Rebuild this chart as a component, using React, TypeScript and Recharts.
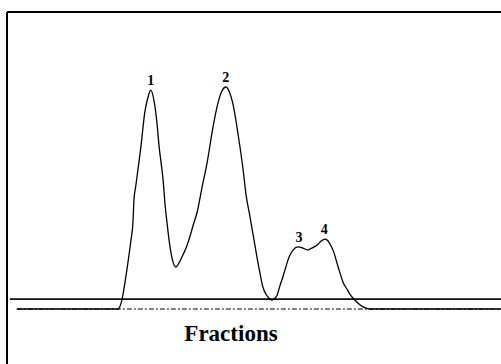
import React from 'react';
import { LineChart, Line, XAxis, YAxis, ReferenceLine, ReferenceDot } from 'recharts';

// Fraction position (0-100) and detector signal (relative units)
const fractionX = [
  2.0, 22.5, 22.9, 23.3, 23.9, 24.5, 25.1, 25.5, 25.7, 26.1, 26.5, 27.1, 27.9, 28.5, 29.1,
  29.8, 30.4, 30.8, 31.2, 31.6, 32.0, 32.4, 32.8, 33.2, 33.6, 34.2, 34.8, 35.6, 36.4, 37.0,
  37.7, 38.5, 39.5, 40.5, 41.7, 42.7, 43.5, 44.3, 45.1, 45.7, 46.8, 47.8, 48.4, 49.2, 50.0,
  50.6, 51.2, 51.8, 52.4, 53.0, 53.6, 54.0, 54.7, 55.3, 55.9, 56.5, 57.1, 57.9, 58.9, 59.9,
  60.9, 61.7, 62.8, 63.6, 64.4, 65.0, 65.6, 66.2, 66.8, 67.4, 68.0, 68.8, 69.4, 70.4, 71.5,
  72.5, 73.5, 100,
];
const signal = [
  0, 0, 1.4, 4.5, 12.3, 21.4, 31.4, 39.5, 49.5, 56.4, 63.2, 73.6, 89.5, 95.9, 99.5,
  94.1, 83.6, 73.6, 66.4, 58.6, 47.3, 39.1, 31.4, 25.5, 21.4, 19.1, 20.9, 24.5, 28.6, 32.7,
  38.2, 44.1, 55.5, 66.4, 82.7, 93.6, 99.1, 100.9, 98.2, 93.6, 79.1, 63.2, 51.8, 41.8, 31.4,
  23.6, 16.4, 10.0, 6.8, 5.0, 4.1, 4.5, 6.4, 10.9, 15.0, 19.5, 23.6, 26.8, 28.2, 27.7,
  26.8, 27.7, 29.1, 30.9, 31.8, 30.9, 28.6, 25.5, 20.9, 16.4, 12.3, 9.1, 6.8, 4.1, 1.8,
  0.5, 0, 0,
];

const peakNames = ['1', '2', '3', '4'];
const peakX = [29.1, 44.3, 59.1, 64.2];
const peakY = [99.5, 100.9, 28.2, 31.8];

const thresholdLevel = 4.5;
const axisTitle = 'Fractions';

const data = fractionX.map((x, i) => ({ x, y: signal[i] }));

export default function App() {
  return (
    <div style={{ position: 'absolute', left: 0, top: 0, width: 501, height: 364, background: '#fff' }}>
      <LineChart width={501} height={364} data={data} margin={{ top: 12, right: 0, bottom: 0, left: 7 }}>
        <XAxis dataKey="x" type="number" domain={[0, 100]} hide />
        <YAxis type="number" domain={[-25, 135]} hide />
        <ReferenceLine x={0} stroke="#000" strokeWidth={2} />
        <ReferenceLine y={135} stroke="#000" strokeWidth={2} />
        <ReferenceLine
          segment={[{ x: 2, y: 0 }, { x: 100, y: 0 }]}
          stroke="#000"
          strokeWidth={1}
          strokeDasharray="5 2 2 2"
        />
        <ReferenceLine
          segment={[{ x: 0.6, y: thresholdLevel }, { x: 100, y: thresholdLevel }]}
          stroke="#111"
          strokeWidth={1.6}
        />
        <Line
          dataKey="y"
          type="monotone"
          stroke="#000"
          strokeWidth={1.3}
          dot={false}
          activeDot={false}
          isAnimationActive={false}
        />
        {peakNames.map((name, i) => (
          <ReferenceDot
            key={name}
            x={peakX[i]}
            y={peakY[i]}
            r={0}
            fill="none"
            stroke="none"
            label={{
              value: name,
              position: 'top',
              offset: 5,
              fontSize: 14,
              fontWeight: 'bold',
              fontFamily: 'Liberation Serif',
              fill: '#000',
            }}
          />
        ))}
      </LineChart>
      <svg width={501} height={364} style={{ position: 'absolute', left: 0, top: 0, pointerEvents: 'none' }}>
        <text
          x={231}
          y={341}
          textAnchor="middle"
          fontFamily="Liberation Serif"
          fontWeight="bold"
          fontSize={23}
          fill="#000"
        >
          {axisTitle}
        </text>
      </svg>
    </div>
  );
}
